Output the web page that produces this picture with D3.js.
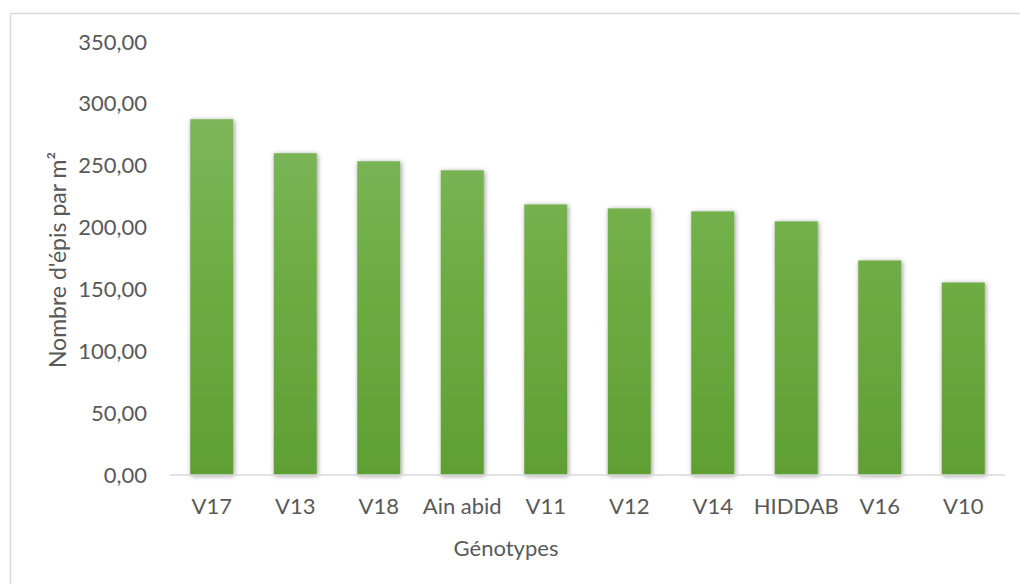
<!DOCTYPE html>
<html>
<head>
<meta charset="utf-8">
<script src="https://cdn.jsdelivr.net/npm/d3@7"></script>
<style>
    html, body { margin: 0; padding: 0; background: #fff; overflow: hidden; }
    text { font-family: Lato, "Open Sans", sans-serif; fill: #595959; }
</style>
</head>
<body>
<div class="chart"></div>
<script>
// Data
const genotypes = ["V17", "V13", "V18", "Ain abid", "V11", "V12", "V14", "HIDDAB", "V16", "V10"];
const epis = [287.6, 260.1, 253.6, 246.3, 218.7, 215.5, 213.1, 205.0, 173.4, 155.6];
const yTicks = [0, 50, 100, 150, 200, 250, 300, 350];

const width = 1020;
const height = 584;

const margin = {
    left: 170,
    right: 15,
    top: 42,
    bottom: 109
};

const svg = d3.select(".chart")
    .append("svg")
    .attr("width", width)
    .attr("height", height);

// Chart frame (right and bottom edges fall outside the picture)
svg.append("rect")
    .attr("x", 10.5)
    .attr("y", 13.5)
    .attr("width", 1040)
    .attr("height", 600)
    .attr("fill", "none")
    .attr("stroke", "#d9d9d9")
    .attr("stroke-width", 1.5);

const x_scale = d3.scaleBand()
    .domain(genotypes)
    .range([margin.left, width - margin.right])
    .paddingInner(0.485)
    .paddingOuter(0.2425);

const y_scale = d3.scaleLinear()
    .domain([0, 350])
    .range([height - margin.bottom, margin.top]);

// Gradient + shadow for the bars
const defs = svg.append("defs");
const grad = defs.append("linearGradient")
    .attr("id", "barGrad")
    .attr("gradientUnits", "userSpaceOnUse")
    .attr("x1", 0).attr("x2", 0)
    .attr("y1", y_scale(350)).attr("y2", y_scale(0));
grad.append("stop").attr("offset", "0%").attr("stop-color", "#85ba67");
grad.append("stop").attr("offset", "50%").attr("stop-color", "#6fae45");
grad.append("stop").attr("offset", "100%").attr("stop-color", "#5f9f33");

const shadow = defs.append("filter")
    .attr("id", "shadow")
    .attr("x", "-30%").attr("y", "-10%")
    .attr("width", "160%").attr("height", "130%");
shadow.append("feDropShadow")
    .attr("dx", 1)
    .attr("dy", 1)
    .attr("stdDeviation", 2.6)
    .attr("flood-color", "#000")
    .attr("flood-opacity", 0.42);

// Y axis labels (no axis line, no gridlines)
const yAxis = svg.append("g")
    .attr("transform", `translate(${margin.left}, 0)`)
    .call(d3.axisLeft(y_scale)
        .tickValues(yTicks)
        .tickSize(0)
        .tickPadding(23)
        .tickFormat((d) => d3.format(".2f")(d).replace(".", ",")));
yAxis.select(".domain").remove();
yAxis.selectAll("text")
    .attr("font-size", 22)
    .attr("fill", "#595959")
    .style("font-family", "Lato, sans-serif");

// Bars
svg.append("g")
    .selectAll("rect")
    .data(genotypes)
    .join("rect")
        .attr("fill", "url(#barGrad)")
        .attr("filter", "url(#shadow)")
        .attr("x", (d) => x_scale(d))
        .attr("y", (d, i) => y_scale(epis[i]))
        .attr("width", x_scale.bandwidth())
        .attr("height", (d, i) => y_scale(0) - y_scale(epis[i]));

// X axis
const xAxis = svg.append("g")
    .attr("transform", `translate(0, ${y_scale(0)})`)
    .call(d3.axisBottom(x_scale).tickSize(0).tickPadding(23));
xAxis.select(".domain")
    .attr("stroke", "#d9d9d9")
    .attr("stroke-width", 1.5)
    .attr("d", `M${margin.left},0H${width - margin.right}`);
xAxis.selectAll("text")
    .attr("font-size", 22)
    .attr("fill", "#595959")
    .style("font-family", "Lato, sans-serif");

// Axis titles
svg.append("text")
    .attr("x", 506)
    .attr("y", 556)
    .attr("text-anchor", "middle")
    .attr("font-size", 22)
    .text("Génotypes");

svg.append("text")
    .attr("transform", "translate(66, 260) rotate(-90)")
    .attr("text-anchor", "middle")
    .attr("font-size", 23)
    .text("Nombre d'épis par m²");
</script>
</body>
</html>
